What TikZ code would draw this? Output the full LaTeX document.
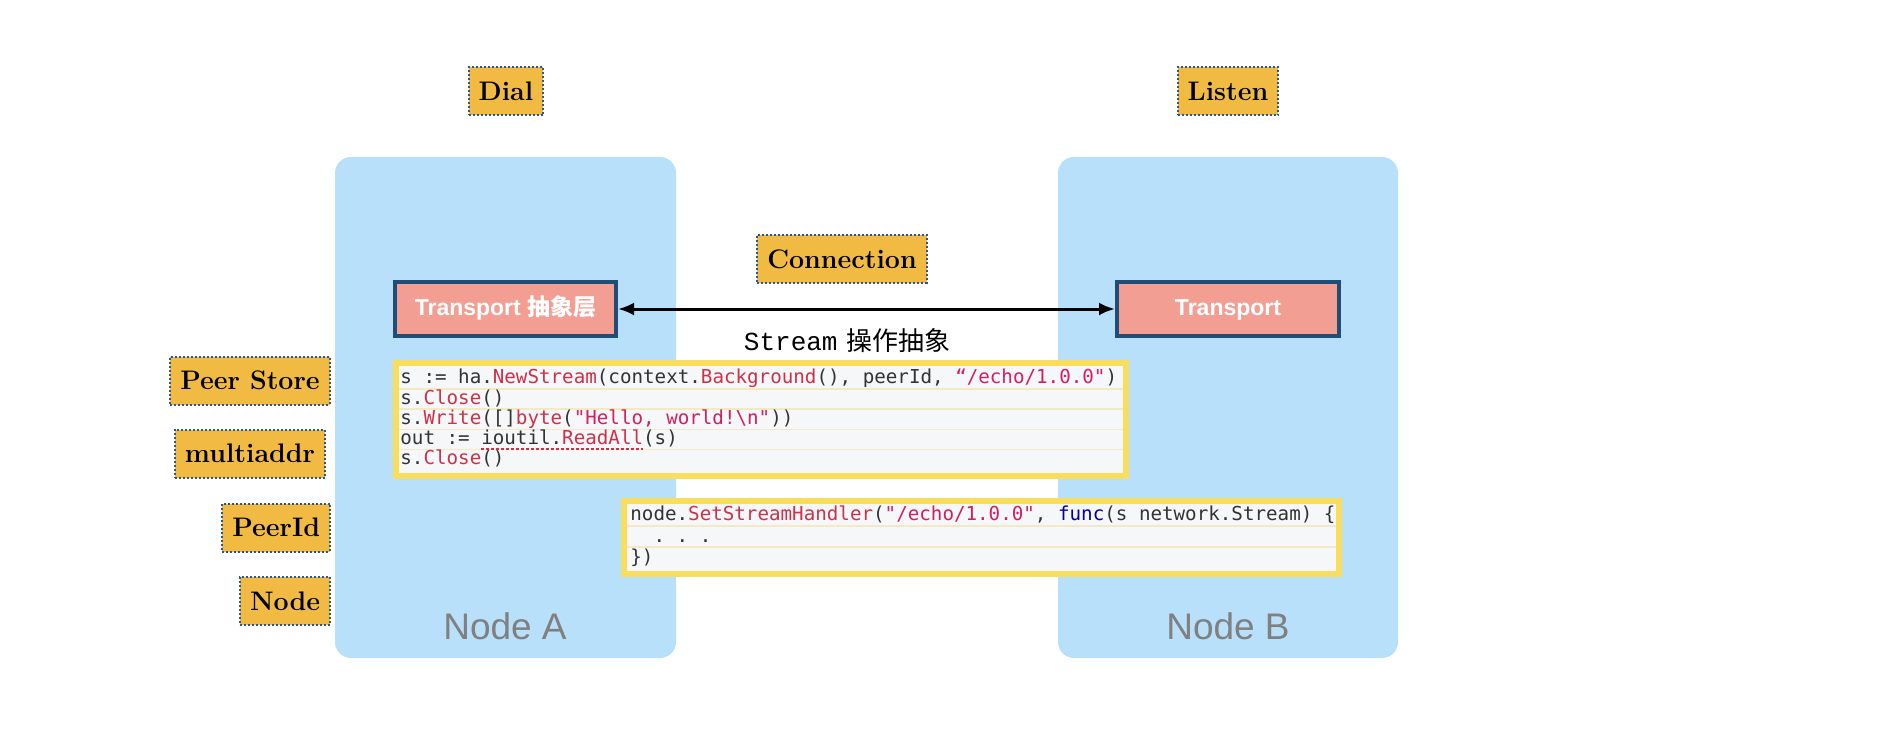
\documentclass[tikz,border=0pt]{standalone}
\usepackage{fontspec}
\usetikzlibrary{arrows.meta}
\newfontfamily\cjkfont{Noto Sans CJK SC}
\newfontfamily\codefont{DejaVu Sans Mono}
\newfontfamily\strmono{Liberation Mono}
\newfontfamily\helv{Liberation Sans}
\definecolor{nodeblue}{RGB}{185,224,251}
\definecolor{tagorange}{RGB}{241,186,66}
\definecolor{tagline}{RGB}{40,88,145}
\definecolor{salmon}{RGB}{243,158,147}
\definecolor{tborder}{RGB}{30,78,120}
\definecolor{codeyellow}{RGB}{248,222,92}
\definecolor{codebg}{RGB}{246,247,249}
\definecolor{codesep}{RGB}{245,232,196}
\definecolor{codetext}{RGB}{51,51,51}
\definecolor{codefn}{RGB}{205,50,72}
\definecolor{codestr}{RGB}{212,30,95}
\definecolor{codekw}{RGB}{0,0,160}
\definecolor{labelgray}{RGB}{128,128,128}
\newcommand\cfn[1]{\textcolor{codefn}{#1}}
\newcommand\cstr[1]{\textcolor{codestr}{#1}}
\newcommand\ckw[1]{\textcolor{codekw}{#1}}

\begin{document}
\begin{tikzpicture}[x=0.5pt,y=-0.5pt,
    nodebox/.style={fill=nodeblue,rounded corners=8pt,inner sep=0pt,minimum height=250.5pt},
    nodelabel/.style={text=labelgray,font=\helv\fontsize{18.5}{22}\selectfont},
    tag/.style={fill=tagorange,draw=tagline,densely dotted,line width=1pt,minimum height=24pt,
        inner xsep=5pt,inner ysep=0pt,font=\fontsize{13.4}{16}\selectfont\bfseries},
    transport/.style={fill=salmon,draw=tborder,line width=2pt,minimum height=27pt,inner sep=0pt,
        text height=8.5pt,text depth=2pt,text=white,font=\helv\bfseries\fontsize{11.5}{14}\selectfont},
    codebox/.style={fill=codebg,draw=codeyellow,line width=3pt,inner sep=0pt},
    codeline/.style={anchor=west,inner sep=0pt,text=codetext,text height=7pt,text depth=2pt,
        font=\codefont\fontsize{9.6}{11}\selectfont},
    codesepline/.style={draw=codesep,line width=0.6pt}]
    \useasboundingbox (0,0) rectangle (1896,738);
    %% node boxes
    \node[nodebox,minimum width=170.5pt] (nodeA) at (505.5,407.5) {};
    \node[nodebox,minimum width=170pt] (nodeB) at (1228,407.5) {};
    \node[nodelabel] (labA) at (505,626) {Node A};
    \node[nodelabel] (labB) at (1228,626) {Node B};
    %% tags
    \node[tag] (dial) at (506,91) {Dial};
    \node[tag] (listen) at (1228,91) {Listen};
    \node[tag] (conn) at (842,259) {Connection};
    \node[tag] (pstore) at (250,380.5) {Peer Store};
    \node[tag] (maddr) at (250,453.5) {multiaddr};
    \node[tag,anchor=east] (pid) at (331,527.5) {PeerId};
    \node[tag,anchor=east] (nodetag) at (331,601) {Node};
    %% transports
    \node[transport,minimum width=110.5pt] (tA) at (505.5,309) {Transport {\cjkfont\bfseries 抽象层}};
    \node[transport,minimum width=111pt] (tB) at (1228,309) {Transport};
    \draw[{Latex[length=8pt,width=6.5pt]}-{Latex[length=8pt,width=6.5pt]},line width=1.5pt] (tA.east) -- (tB.west);
    \node[font=\fontsize{13}{16}\selectfont] (stream) at (847,341) {{\strmono Stream} {\cjkfont 操作抽象}};
    %% dial code
    \node[codebox,minimum width=365pt,minimum height=56.5pt] (code1) at (761,419.5) {};
    \foreach \y in {389,409,429.5,449.5}
        \draw[codesepline] (399,\y) -- (1123,\y);
    \node[codeline] (c1l1) at (400,378.5) {s := ha.\cfn{NewStream}(context.\cfn{Background}(), peerId, \cstr{“/echo/1.0.0"})};
    \node[codeline] (c1l2) at (400,399) {s.\cfn{Close}()};
    \node[codeline] (c1l3) at (400,419.5) {s.\cfn{Write}([]\cfn{byte}(\cstr{"Hello, world!\textbackslash n"}))};
    \node[codeline] (c1l4) at (400,439.5) {out := ioutil.\cfn{ReadAll}(s)};
    \node[codeline] (c1l5) at (400,459.5) {s.\cfn{Close}()};
    \draw[codefn,line width=1pt,dash pattern=on 1.5pt off 1pt] (481,449) -- (643,449);
    %% listen code
    \node[codebox,minimum width=357.5pt,minimum height=36.5pt] (code2) at (981.5,537.5) {};
    \foreach \y in {526,547}
        \draw[codesepline] (627,\y) -- (1336,\y);
    \node[codeline] (c2l1) at (630,515) {node.\cfn{SetStreamHandler}(\cstr{"/echo/1.0.0"}, \ckw{func}(s network.Stream) \{};
    \node[codeline] (c2l2) at (630,537) {\phantom{xx}.\phantom{x}.\phantom{x}.};
    \node[codeline] (c2l3) at (630,558) {\})};
\end{tikzpicture}
\end{document}
